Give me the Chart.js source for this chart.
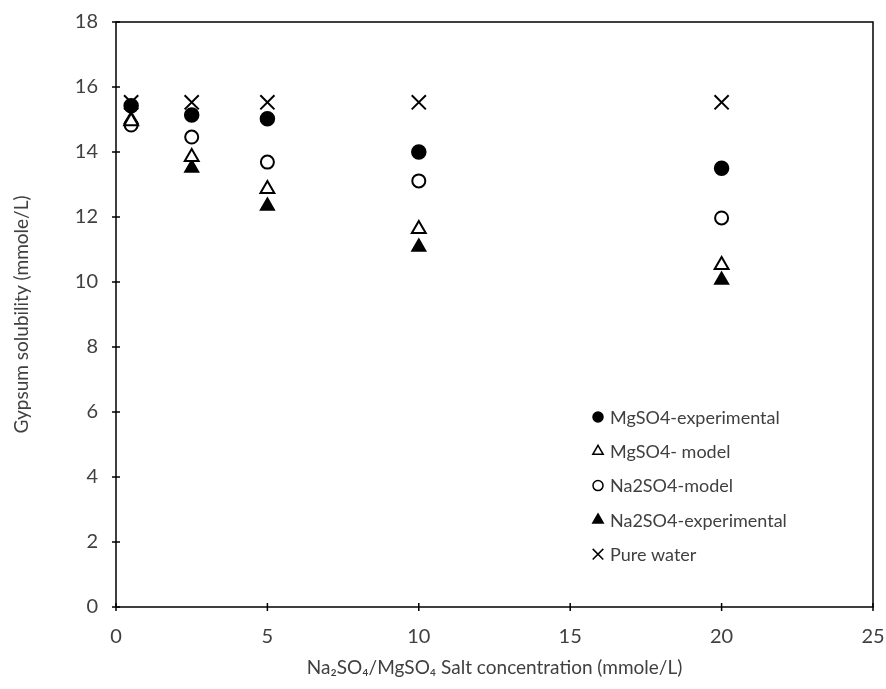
<!DOCTYPE html>
<html>
<head>
<meta charset="utf-8">
<script src="https://cdn.jsdelivr.net/npm/chart.js@4.4.0/dist/chart.umd.min.js"></script>
<style>
  html, body { margin: 0; padding: 0; background: #fff; }
</style>
</head>
<body>
<canvas id="myChart" width="886" height="689"></canvas>
<script>
// salt concentration (mmole/L)
const concentrations = [0.5, 2.5, 5, 10, 20];

// gypsum solubility (mmole/L) per series
const mgso4Experimental = [15.42, 15.14, 15.02, 14.0, 13.5];
const mgso4Model = [14.95, 13.85, 12.86, 11.63, 10.52];
const na2so4Model = [14.83, 14.46, 13.69, 13.11, 11.97];
const na2so4Experimental = [15.0, 13.51, 12.34, 11.08, 10.06];
const pureWater = [15.53, 15.53, 15.53, 15.53, 15.53];

const xTicks = [0, 5, 10, 15, 20, 25];
const yTicks = [0, 2, 4, 6, 8, 10, 12, 14, 16, 18];

const textColor = '#404040';
const fontFamily = 'Lato, "Open Sans", sans-serif';

function toPoints(values) {
  return concentrations.map((x, i) => ({ x: x, y: values[i] }));
}

// frame round the plot area and ticks that cross the axis lines
const framePlugin = {
  id: 'frame',
  afterDatasetsDraw(chart) {
    const ctx = chart.ctx;
    const a = chart.chartArea;
    ctx.save();
    ctx.strokeStyle = '#000';
    ctx.lineWidth = 1.5;
    ctx.strokeRect(a.left, a.top, a.right - a.left, a.bottom - a.top);
    ctx.beginPath();
    chart.scales.x.ticks.forEach(t => {
      const px = chart.scales.x.getPixelForValue(t.value);
      ctx.moveTo(px, a.bottom - 4);
      ctx.lineTo(px, a.bottom + 4);
    });
    chart.scales.y.ticks.forEach(t => {
      const py = chart.scales.y.getPixelForValue(t.value);
      ctx.moveTo(a.left - 4, py);
      ctx.lineTo(a.left + 4, py);
    });
    ctx.stroke();
    ctx.restore();
  }
};

// legend inside the plot, lower right
const legendSizes = [5, 6, 5, 6, 7.5];
const insideLegend = {
  id: 'insideLegend',
  afterDraw(chart) {
    const ctx = chart.ctx;
    let x = 598;
    let y = 417;
    ctx.save();
    ctx.font = '18px ' + fontFamily;
    ctx.textBaseline = 'middle';
    chart.data.datasets.forEach((ds, i) => {
      ctx.fillStyle = ds.backgroundColor;
      ctx.strokeStyle = ds.borderColor;
      ctx.lineWidth = 1.5;
      Chart.helpers.drawPoint(ctx, {
        pointStyle: ds.pointStyle,
        radius: legendSizes[i],
        rotation: 0,
        borderWidth: 1.5
      }, x, y);
      ctx.fillStyle = textColor;
      ctx.fillText(ds.label, x + 12, y + 1);
      y += 34.3;
    });
    ctx.restore();
  }
};

const ctx = document.getElementById('myChart').getContext('2d');
const myChart = new Chart(ctx, {
  type: 'scatter',
  data: {
    datasets: [{
      label: 'MgSO4-experimental',
      data: toPoints(mgso4Experimental),
      pointStyle: 'circle',
      backgroundColor: '#000',
      borderColor: '#000',
      pointRadius: 7,
      borderWidth: 1.5
    },
    {
      label: 'MgSO4- model',
      data: toPoints(mgso4Model),
      pointStyle: 'triangle',
      backgroundColor: '#fff',
      borderColor: '#000',
      pointRadius: 8,
      borderWidth: 2
    },
    {
      label: 'Na2SO4-model',
      data: toPoints(na2so4Model),
      pointStyle: 'circle',
      backgroundColor: '#fff',
      borderColor: '#000',
      pointRadius: 6.5,
      borderWidth: 2
    },
    {
      label: 'Na2SO4-experimental',
      data: toPoints(na2so4Experimental),
      pointStyle: 'triangle',
      backgroundColor: '#000',
      borderColor: '#000',
      pointRadius: 8,
      borderWidth: 1.5
    },
    {
      label: 'Pure water',
      data: toPoints(pureWater),
      pointStyle: 'crossRot',
      backgroundColor: '#000',
      borderColor: '#000',
      pointRadius: 10,
      borderWidth: 2
    }]
  },
  options: {
    responsive: false,
    animation: false,
    devicePixelRatio: 1,
    layout: { padding: { top: 22, right: 13, left: 0, bottom: 0 } },
    plugins: {
      legend: { display: false },
      tooltip: { enabled: false }
    },
    scales: {
      x: {
        type: 'linear',
        min: 0,
        max: 25,
        afterBuildTicks: scale => { scale.ticks = xTicks.map(v => ({ value: v })); },
        afterFit: scale => {
          scale.height = 82;
          scale.paddingLeft = 0;
          scale.paddingRight = 0;
        },
        grid: { display: false, drawTicks: false },
        border: { display: false },
        ticks: {
          padding: 18,
          color: textColor,
          font: { family: fontFamily, size: 20 }
        },
        title: {
          display: true,
          text: 'Na\u2082SO\u2084/MgSO\u2084 Salt concentration (mmole/L)',
          color: textColor,
          font: { family: fontFamily, size: 19 },
          padding: { top: 0, bottom: 10 }
        }
      },
      y: {
        min: 0,
        max: 18,
        afterBuildTicks: scale => { scale.ticks = yTicks.map(v => ({ value: v })); },
        afterFit: scale => {
          scale.width = 116;
          scale.paddingTop = 0;
          scale.paddingBottom = 0;
        },
        grid: { display: false, drawTicks: false },
        border: { display: false },
        ticks: {
          padding: 18,
          color: textColor,
          font: { family: fontFamily, size: 20 }
        },
        title: {
          display: true,
          text: 'Gypsum solubility (mmole/L)',
          color: textColor,
          font: { family: fontFamily, size: 19 },
          padding: { top: 10, bottom: 0 }
        }
      }
    }
  },
  plugins: [framePlugin, insideLegend]
});
</script>
</body>
</html>
